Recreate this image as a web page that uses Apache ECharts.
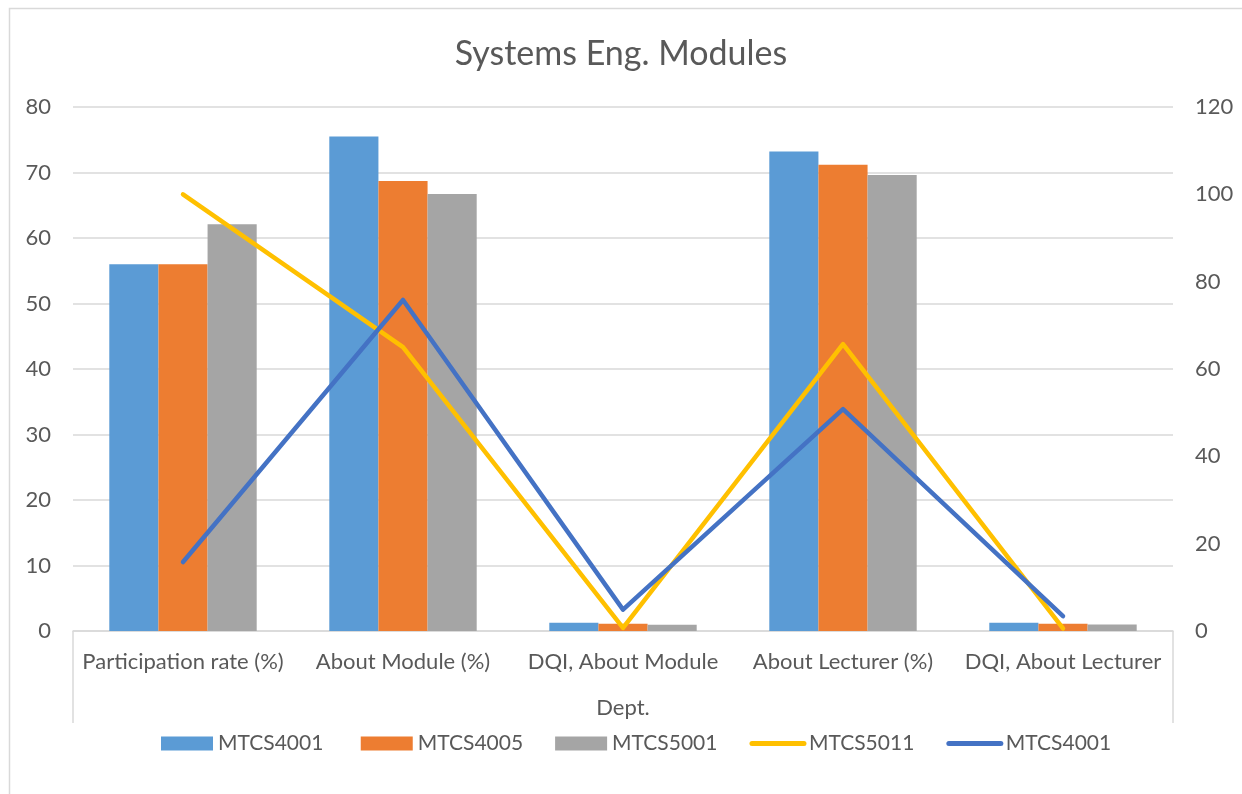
<!DOCTYPE html>
<html>
<head>
<meta charset="utf-8">
<script src="https://cdn.jsdelivr.net/npm/echarts@6/dist/echarts.min.js"></script>
<style>
  html, body { margin: 0; padding: 0; background: #fff; }
  #chart { width: 1242px; height: 794px; }
</style>
</head>
<body>
<div id="chart"></div>
<script>
// Survey categories
const categories = ['Participation rate (%)', 'About Module (%)', 'DQI, About Module', 'About Lecturer (%)', 'DQI, About Lecturer'];

// Column series (left axis)
const mtcs4001Bars = [56, 75.5, 1.25, 73.2, 1.25];
const mtcs4005Bars = [56, 68.7, 1.1, 71.2, 1.1];
const mtcs5001Bars = [62.1, 66.7, 0.95, 69.6, 1.0];

// Line series (right axis)
const mtcs5011Line = [100, 65, 0.7, 65.7, 0.6];
const mtcs4001Line = [15.8, 75.8, 4.9, 50.8, 3.4];

const textColor = '#595959';
const fontFamily = 'Lato, "Open Sans", sans-serif';
const gridColor = '#D9D9D9';
const labelSize = 22;

const chart = echarts.init(document.getElementById('chart'));

const gridLeft = 73, gridRight = 69, gridTop = 107, gridBottom = 163;
const W = 1242, H = 794;
const axisY = H - gridBottom;

const legendLine = { width: 5, cap: 'round' };

chart.setOption({
  animation: false,
  backgroundColor: '#fff',
  textStyle: { fontFamily: fontFamily, color: textColor },
  title: {
    text: 'Systems Eng. Modules',
    left: 'center',
    top: 32,
    textStyle: { fontFamily: fontFamily, fontSize: 34, fontWeight: 'normal', color: textColor }
  },
  legend: {
    top: 728,
    left: 156,
    itemGap: 32,
    itemWidth: 52,
    itemHeight: 14,
    textStyle: { fontFamily: fontFamily, fontSize: 21, color: textColor },
    data: [
      { name: 'MTCS4001 ', icon: 'rect' },
      { name: 'MTCS4005', icon: 'rect' },
      { name: 'MTCS5001', icon: 'rect' },
      { name: 'MTCS5011', itemStyle: { opacity: 0 }, lineStyle: legendLine },
      { name: 'MTCS4001', itemStyle: { opacity: 0 }, lineStyle: legendLine }
    ]
  },
  grid: { left: gridLeft, right: gridRight, top: gridTop, bottom: gridBottom },
  xAxis: {
    type: 'category',
    data: categories,
    name: 'Dept.',
    nameLocation: 'middle',
    nameGap: 66,
    nameTextStyle: { fontFamily: fontFamily, fontSize: labelSize, color: textColor },
    axisLine: { lineStyle: { color: gridColor, width: 1.5 } },
    axisTick: { show: false },
    axisLabel: { fontFamily: fontFamily, fontSize: labelSize, color: textColor, margin: 20, interval: 0 }
  },
  yAxis: [
    {
      type: 'value', min: 0, max: 80, interval: 10,
      axisLine: { show: false }, axisTick: { show: false },
      splitLine: { lineStyle: { color: gridColor, width: 1.5 } },
      axisLabel: { fontFamily: fontFamily, fontSize: labelSize, color: textColor, margin: 22 }
    },
    {
      type: 'value', min: 0, max: 120, interval: 20,
      axisLine: { show: false }, axisTick: { show: false },
      splitLine: { show: false },
      axisLabel: { fontFamily: fontFamily, fontSize: labelSize, color: textColor, margin: 22 }
    }
  ],
  series: [
    { name: 'MTCS4001 ', type: 'bar', data: mtcs4001Bars, barGap: '0%', barCategoryGap: '33%',
      itemStyle: { color: '#5B9BD5' } },
    { name: 'MTCS4005', type: 'bar', data: mtcs4005Bars, itemStyle: { color: '#ED7D31' } },
    { name: 'MTCS5001', type: 'bar', data: mtcs5001Bars, itemStyle: { color: '#A5A5A5' } },
    { name: 'MTCS5011', type: 'line', yAxisIndex: 1, data: mtcs5011Line,
      symbol: 'none', itemStyle: { color: '#FFC000' },
      lineStyle: { color: '#FFC000', width: 4.5, cap: 'round', join: 'round' } },
    { name: 'MTCS4001', type: 'line', yAxisIndex: 1, data: mtcs4001Line,
      symbol: 'none', itemStyle: { color: '#4472C4' },
      lineStyle: { color: '#4472C4', width: 4.5, cap: 'round', join: 'round' } }
  ],
  graphic: [
    // outer chart frame
    { type: 'rect', silent: true, shape: { x: 9.5, y: 8.5, width: 1260, height: 820 },
      style: { fill: null, stroke: gridColor, lineWidth: 1.5 } },
    // side walls of the category label box
    { type: 'line', silent: true, shape: { x1: gridLeft, y1: axisY, x2: gridLeft, y2: axisY + 92 },
      style: { stroke: gridColor, lineWidth: 1.5 } },
    { type: 'line', silent: true, shape: { x1: W - gridRight, y1: axisY, x2: W - gridRight, y2: axisY + 92 },
      style: { stroke: gridColor, lineWidth: 1.5 } }
  ]
});
</script>
</body>
</html>
